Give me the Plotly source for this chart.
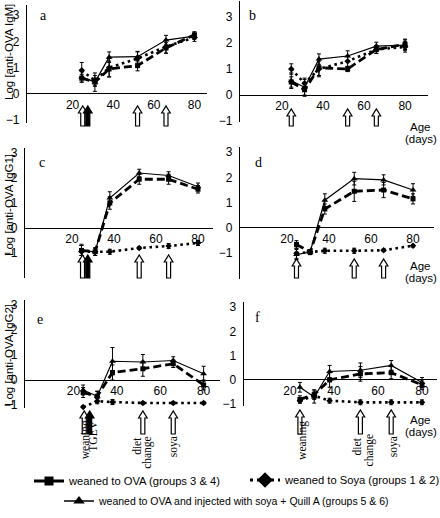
import plotly.graph_objects as go

W, H = 440, 518

# ---------------- data ----------------
days = [24.5, 31, 38, 52, 66, 80]

# IgM
a_ova = [0.6, 0.45, 0.95, 1.08, 1.75, 2.25]
a_soya = [0.9, 0.5, 1.0, 1.35, 1.8, 2.15]
a_quill = [0.65, 0.45, 1.4, 1.42, 2.05, 2.2]
a_ova_err = [0.15, 0.15, 0.3, 0.2, 0.2, 0.12]
a_soya_err = [0.3, 0.2, 0.35, 0.25, 0.25, 0.15]
a_quill_err = [0.2, 0.35, 0.2, 0.2, 0.18, 0.12]

b_ova = [0.5, 0.2, 1.05, 1.0, 1.75, 1.95]
b_soya = [1.0, 0.45, 1.0, 1.3, 1.75, 1.85]
b_quill = [0.55, 0.3, 1.38, 1.5, 1.88, 1.92]
b_ova_err = [0.2, 0.25, 0.3, 0.1, 0.15, 0.2]
b_soya_err = [0.2, 0.2, 0.3, 0.2, 0.15, 0.2]
b_quill_err = [0.3, 0.3, 0.2, 0.2, 0.15, 0.2]

# IgG1
c_ova = [-0.9, -0.95, 1.0, 1.95, 1.95, 1.55]
c_soya = [-0.95, -0.95, -0.95, -0.8, -0.72, -0.6]
c_quill = [-0.9, -0.95, 1.2, 2.2, 2.1, 1.65]
c_ova_err = [0.2, 0.15, 0.25, 0.2, 0.2, 0.15]
c_soya_err = [0.3, 0.15, 0.1, 0.05, 0.1, 0.1]
c_quill_err = [0.2, 0.15, 0.25, 0.15, 0.15, 0.15]

d_ova = [-0.65, -0.95, 0.75, 1.45, 1.5, 1.15]
d_soya = [-1.0, -0.95, -0.9, -0.9, -0.88, -0.7]
d_quill = [-1.05, -0.95, 1.1, 1.95, 1.9, 1.5]
d_ova_err = [0.15, 0.1, 0.2, 0.4, 0.3, 0.2]
d_soya_err = [0.2, 0.1, 0.1, 0.1, 0.05, 0.05]
d_quill_err = [0.2, 0.1, 0.25, 0.25, 0.2, 0.25]

# IgG2
e_ova = [-0.5, -0.65, 0.3, 0.45, 0.65, -0.2]
e_soya = [-1.08, -0.85, -0.88, -0.92, -0.92, -0.92]
e_quill = [-0.4, -0.65, 0.75, 0.72, 0.78, 0.25]
e_ova_err = [0.2, 0.2, 0.3, 0.3, 0.15, 0.2]
e_soya_err = [0.05, 0.1, 0.1, 0.05, 0.05, 0.05]
e_quill_err = [0.2, 0.2, 0.55, 0.3, 0.15, 0.3]

f_ova = [-0.8, -0.6, 0.0, 0.25, 0.3, -0.2]
f_soya = [-0.85, -0.65, -0.85, -0.92, -0.92, -0.92]
f_quill = [-0.3, -0.7, 0.35, 0.4, 0.6, -0.1]
f_ova_err = [0.15, 0.2, 0.3, 0.3, 0.25, 0.2]
f_soya_err = [0.1, 0.1, 0.1, 0.1, 0.1, 0.1]
f_quill_err = [0.2, 0.25, 0.25, 0.3, 0.2, 0.2]

x_ticks = [20, 40, 60, 80]
y_ticks = [-1, 0, 1, 2, 3]

events_left = [25, 27.5, 52, 66]
events_left_filled = [False, True, False, False]
events_right = [24.5, 52, 66]
events_right_filled = [False, False, False]

series_names = ["weaned to OVA (groups 3 & 4)",
                "weaned to Soya (groups 1 & 2)",
                "weaned to OVA and injected with soya + Quill A (groups 5 & 6)"]
panel_letters = ["a", "b", "c", "d", "e", "f"]
y_titles = ["Log [anti-OVA IgM]", "Log [anti-OVA IgG1]", "Log [anti-OVA IgG2]"]

# ---------------- layout geometry (pixels) ----------------
SANS = "Liberation Sans, Arial, sans-serif"
SERIF = "Liberation Serif, Times New Roman, serif"

panels = [
    dict(xd=(26.9, 206.6), xr=(-2.5, 86), yd=(4.6, 122.9), yr=(-1.1, 3.4), arr=(106, 126),
         data=(a_ova, a_soya, a_quill), err=(a_ova_err, a_soya_err, a_quill_err),
         ev=events_left, evf=events_left_filled, letter=(43, 15)),
    dict(xd=(240, 427.6), xr=(-0.5, 91), yd=(1.4, 122.3), yr=(-1.05, 3.6), arr=(109, 126),
         data=(b_ova, b_soya, b_quill), err=(b_ova_err, b_soya_err, b_quill_err),
         ev=events_right, evf=events_right_filled, letter=(252, 15)),
    dict(xd=(25, 212.7), xr=(-2.4, 87), yd=(148, 278), yr=(-2, 3.2), arr=(255, 278),
         data=(c_ova, c_soya, c_quill), err=(c_ova_err, c_soya_err, c_quill_err),
         ev=events_left, evf=events_left_filled, letter=(42, 163)),
    dict(xd=(240, 434), xr=(-2.4, 90), yd=(147, 278.6), yr=(-2, 3.2), arr=(259, 278),
         data=(d_ova, d_soya, d_quill), err=(d_ova_err, d_soya_err, d_quill_err),
         ev=events_right, evf=events_right_filled, letter=(258, 162)),
    dict(xd=(25, 219.9), xr=(-2.3, 87.5), yd=(300, 407.5), yr=(-1.1, 3.2), arr=(411, 434),
         data=(e_ova, e_soya, e_quill), err=(e_ova_err, e_soya_err, e_quill_err),
         ev=events_left, evf=events_left_filled, letter=(40, 319)),
    dict(xd=(243.8, 437.4), xr=(-1, 87), yd=(302.2, 405.5), yr=(-1.05, 3.2), arr=(410, 434),
         data=(f_ova, f_soya, f_quill), err=(f_ova_err, f_soya_err, f_quill_err),
         ev=events_right, evf=events_right_filled, letter=(257, 317)),
]


def px(x):
    return x / W


def py(y):
    return 1 - y / H


styles = [
    dict(line=dict(color="black", width=2.8, dash="8px,4px"),
         marker=dict(symbol="square", size=5, color="black")),
    dict(line=dict(color="black", width=2.6, dash="2.6px,3.6px"),
         marker=dict(symbol="diamond", size=5, color="black")),
    dict(line=dict(color="black", width=1.2),
         marker=dict(symbol="triangle-up", size=6, color="black")),
]
legend_marker_sizes = [9, 12, 10]

fig = go.Figure()
layout = dict(width=W, height=H, margin=dict(l=0, r=0, t=0, b=0, autoexpand=False),
              paper_bgcolor="white", plot_bgcolor="rgba(0,0,0,0)",
              showlegend=True, annotations=[], shapes=[])


def note(text, x, y, size=12, family=SANS, **kw):
    d = dict(text=text, x=x, y=y, xref="paper", yref="paper", showarrow=False,
             xanchor="center", yanchor="middle",
             font=dict(family=family, size=size, color="black"))
    d.update(kw)
    layout["annotations"].append(d)


for i, p in enumerate(panels):
    n = i + 1
    xa = "x" if n == 1 else f"x{n}"
    ya = "y" if n == 1 else f"y{n}"
    xkey = "xaxis" if n == 1 else f"xaxis{n}"
    ykey = "yaxis" if n == 1 else f"yaxis{n}"
    ydom = [py(p["yd"][1]), py(p["yd"][0])]
    zero_pos = ydom[0] + (0 - p["yr"][0]) / (p["yr"][1] - p["yr"][0]) * (ydom[1] - ydom[0])
    layout[xkey] = dict(domain=[px(p["xd"][0]), px(p["xd"][1])], range=list(p["xr"]),
                        anchor="free", position=zero_pos, showgrid=False, zeroline=False,
                        showline=False, tickvals=x_ticks, ticks="", ticklabelstandoff=2,
                        automargin=False,
                        tickfont=dict(family=SANS, size=12, color="black"))
    layout[ykey] = dict(domain=ydom, range=list(p["yr"]), anchor=xa, showgrid=False,
                        zeroline=True, zerolinecolor="black", zerolinewidth=1.3,
                        showline=True, linecolor="black", linewidth=1.3,
                        tickvals=y_ticks, ticks="", ticklabelstandoff=4, automargin=False,
                        tickfont=dict(family=SANS, size=12, color="black"))
    for k in (1, 0, 2):
        st = styles[k]
        fig.add_trace(go.Scatter(
            x=days, y=p["data"][k], xaxis=xa, yaxis=ya, mode="lines+markers",
            line=st["line"], marker=st["marker"], showlegend=False, cliponaxis=False,
            error_y=dict(type="data", array=p["err"][k], color="black", thickness=1, width=2),
            hoverinfo="skip"))
    scale = (p["xd"][1] - p["xd"][0]) / (p["xr"][1] - p["xr"][0])
    hw, sw = 4.3 / scale, 2.0 / scale
    ytop, ybot = py(p["arr"][0]), py(p["arr"][1])
    yneck = py(p["arr"][0] + 7)
    for d, filled in zip(p["ev"], p["evf"]):
        path = (f"M {d - sw},{ybot} L {d - sw},{yneck} L {d - hw},{yneck} L {d},{ytop} "
                f"L {d + hw},{yneck} L {d + sw},{yneck} L {d + sw},{ybot} Z")
        layout["shapes"].append(dict(type="path", path=path, xref=xa, yref="paper",
                                     fillcolor="black" if filled else "white",
                                     line=dict(color="black", width=1.2), layer="above"))
    note(panel_letters[i], px(p["letter"][0]), py(p["letter"][1]), size=14, family=SERIF)

for t, yc in zip(y_titles, [52, 205, 355]):
    note(t, px(9), py(yc), size=11.5, textangle=-90)

for ya_, yd_ in [(127, 139), (266, 278), (420, 432)]:
    note("Age", px(408), py(ya_), size=11.5, xanchor="left")
    note("(days)", px(403), py(yd_), size=11.5, xanchor="left")

event_labels_e = [("weaning", 0, 1, 440), ("TGEV", 1, 3, 436), ("diet", 2, -6, 446),
                  ("change", 2, 4, 452), ("soya", 3, 0, 447)]
event_labels_f = [("weaning", 0, 2, 440), ("diet", 1, -3, 446), ("change", 1, 9, 450),
                  ("soya", 2, 2, 447)]
for lab, idx, xs, yc in event_labels_e:
    layout["annotations"].append(dict(text=lab, x=events_left[idx], xref="x5", y=py(yc), yref="paper",
                                      xanchor="center", yanchor="middle",
                                      xshift=xs, textangle=-90, showarrow=False,
                                      font=dict(family=SERIF, size=11.5, color="black")))
for lab, idx, xs, yc in event_labels_f:
    layout["annotations"].append(dict(text=lab, x=events_right[idx], xref="x6", y=py(yc), yref="paper",
                                      xanchor="center", yanchor="middle",
                                      xshift=xs, textangle=-90, showarrow=False,
                                      font=dict(family=SERIF, size=11.5, color="black")))

legend_keys = ["legend", "legend2", "legend3"]
legend_pos = [(29, 481), (245, 480), (59, 501)]
legend_font = [11.2, 11.2, 10.5]
for k in range(3):
    st = styles[k]
    fig.add_trace(go.Scatter(
        x=[None], y=[None], mode="lines+markers", name=series_names[k],
        line=dict(color="black", width=3 if k < 2 else 1.5,
                  dash=("solid" if k != 1 else "3px,4px")),
        marker=dict(symbol=st["marker"]["symbol"], size=legend_marker_sizes[k], color="black"),
        legend=legend_keys[k], showlegend=True))
    layout[legend_keys[k]] = dict(x=px(legend_pos[k][0]), y=py(legend_pos[k][1]),
                                  xanchor="left", yanchor="middle", bgcolor="rgba(0,0,0,0)",
                                  borderwidth=0,
                                  font=dict(family=SANS, size=legend_font[k], color="black"),
                                  itemsizing="trace", tracegroupgap=0)

fig.update_layout(**layout)
fig.write_html("out.html", config={"displayModeBar": False},
               post_script="document.body.style.margin='0';document.body.style.overflow='hidden';")
